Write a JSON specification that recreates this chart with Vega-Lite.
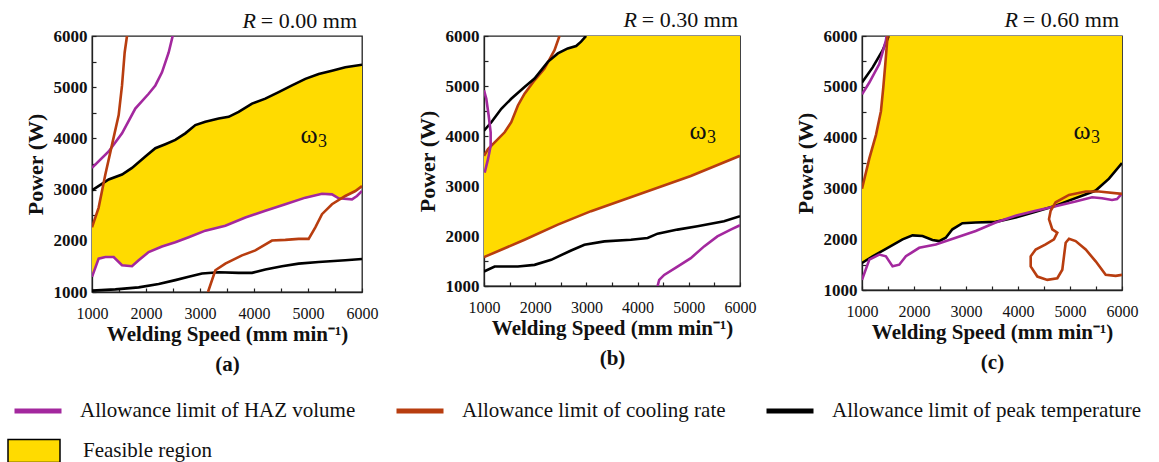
{
"$schema":"https://vega.github.io/schema/vega-lite/v6.json",
"padding":{"left":7,"top":8,"right":0,"bottom":0},
"datasets":{
"lines":[
{"p":"a","c":"a1","s":"peak","i":0,"x":1000,"y":2985},{"p":"a","c":"a1","s":"peak","i":1,"x":1309,"y":3197},{"p":"a","c":"a1","s":"peak","i":2,"x":1556,"y":3294},{"p":"a","c":"a1","s":"peak","i":3,"x":1741,"y":3423},{"p":"a","c":"a1","s":"peak","i":4,"x":1988,"y":3648},{"p":"a","c":"a1","s":"peak","i":5,"x":2173,"y":3809},{"p":"a","c":"a1","s":"peak","i":6,"x":2358,"y":3887},{"p":"a","c":"a1","s":"peak","i":7,"x":2543,"y":3970},{"p":"a","c":"a1","s":"peak","i":8,"x":2728,"y":4099},{"p":"a","c":"a1","s":"peak","i":9,"x":2914,"y":4260},{"p":"a","c":"a1","s":"peak","i":10,"x":3099,"y":4325},{"p":"a","c":"a1","s":"peak","i":11,"x":3346,"y":4389},{"p":"a","c":"a1","s":"peak","i":12,"x":3531,"y":4421},{"p":"a","c":"a1","s":"peak","i":13,"x":3716,"y":4518},{"p":"a","c":"a1","s":"peak","i":14,"x":3963,"y":4679},{"p":"a","c":"a1","s":"peak","i":15,"x":4210,"y":4776},{"p":"a","c":"a1","s":"peak","i":16,"x":4457,"y":4905},{"p":"a","c":"a1","s":"peak","i":17,"x":4704,"y":5034},{"p":"a","c":"a1","s":"peak","i":18,"x":4951,"y":5162},{"p":"a","c":"a1","s":"peak","i":19,"x":5198,"y":5259},{"p":"a","c":"a1","s":"peak","i":20,"x":5444,"y":5323},{"p":"a","c":"a1","s":"peak","i":21,"x":5691,"y":5388},{"p":"a","c":"a1","s":"peak","i":22,"x":6000,"y":5440},
{"p":"a","c":"a2","s":"peak","i":0,"x":1000,"y":1026},{"p":"a","c":"a2","s":"peak","i":1,"x":1432,"y":1052},{"p":"a","c":"a2","s":"peak","i":2,"x":1864,"y":1090},{"p":"a","c":"a2","s":"peak","i":3,"x":2235,"y":1155},{"p":"a","c":"a2","s":"peak","i":4,"x":2543,"y":1232},{"p":"a","c":"a2","s":"peak","i":5,"x":2790,"y":1296},{"p":"a","c":"a2","s":"peak","i":6,"x":3037,"y":1361},{"p":"a","c":"a2","s":"peak","i":7,"x":3346,"y":1387},{"p":"a","c":"a2","s":"peak","i":8,"x":3716,"y":1374},{"p":"a","c":"a2","s":"peak","i":9,"x":3963,"y":1374},{"p":"a","c":"a2","s":"peak","i":10,"x":4210,"y":1438},{"p":"a","c":"a2","s":"peak","i":11,"x":4519,"y":1503},{"p":"a","c":"a2","s":"peak","i":12,"x":4827,"y":1554},{"p":"a","c":"a2","s":"peak","i":13,"x":5198,"y":1586},{"p":"a","c":"a2","s":"peak","i":14,"x":5691,"y":1619},{"p":"a","c":"a2","s":"peak","i":15,"x":6000,"y":1645},
{"p":"a","c":"a3","s":"haz","i":0,"x":1000,"y":3423},{"p":"a","c":"a3","s":"haz","i":1,"x":1309,"y":3745},{"p":"a","c":"a3","s":"haz","i":2,"x":1556,"y":4099},{"p":"a","c":"a3","s":"haz","i":3,"x":1802,"y":4582},{"p":"a","c":"a3","s":"haz","i":4,"x":2049,"y":4872},{"p":"a","c":"a3","s":"haz","i":5,"x":2173,"y":5034},{"p":"a","c":"a3","s":"haz","i":6,"x":2296,"y":5291},{"p":"a","c":"a3","s":"haz","i":7,"x":2420,"y":5678},{"p":"a","c":"a3","s":"haz","i":8,"x":2494,"y":6000},
{"p":"a","c":"a4","s":"cool","i":0,"x":1000,"y":2263},{"p":"a","c":"a4","s":"cool","i":1,"x":1123,"y":2649},{"p":"a","c":"a4","s":"cool","i":2,"x":1247,"y":3294},{"p":"a","c":"a4","s":"cool","i":3,"x":1370,"y":3874},{"p":"a","c":"a4","s":"cool","i":4,"x":1494,"y":4454},{"p":"a","c":"a4","s":"cool","i":5,"x":1556,"y":5034},{"p":"a","c":"a4","s":"cool","i":6,"x":1605,"y":5678},{"p":"a","c":"a4","s":"cool","i":7,"x":1648,"y":6000},
{"p":"a","c":"a5","s":"haz","i":0,"x":1000,"y":1296},{"p":"a","c":"a5","s":"haz","i":1,"x":1123,"y":1651},{"p":"a","c":"a5","s":"haz","i":2,"x":1247,"y":1683},{"p":"a","c":"a5","s":"haz","i":3,"x":1401,"y":1683},{"p":"a","c":"a5","s":"haz","i":4,"x":1556,"y":1522},{"p":"a","c":"a5","s":"haz","i":5,"x":1741,"y":1503},{"p":"a","c":"a5","s":"haz","i":6,"x":1864,"y":1619},{"p":"a","c":"a5","s":"haz","i":7,"x":2049,"y":1780},{"p":"a","c":"a5","s":"haz","i":8,"x":2296,"y":1889},{"p":"a","c":"a5","s":"haz","i":9,"x":2543,"y":1973},{"p":"a","c":"a5","s":"haz","i":10,"x":2790,"y":2070},{"p":"a","c":"a5","s":"haz","i":11,"x":3099,"y":2198},{"p":"a","c":"a5","s":"haz","i":12,"x":3469,"y":2295},{"p":"a","c":"a5","s":"haz","i":13,"x":3840,"y":2456},{"p":"a","c":"a5","s":"haz","i":14,"x":4210,"y":2585},{"p":"a","c":"a5","s":"haz","i":15,"x":4580,"y":2714},{"p":"a","c":"a5","s":"haz","i":16,"x":4951,"y":2843},{"p":"a","c":"a5","s":"haz","i":17,"x":5259,"y":2920},{"p":"a","c":"a5","s":"haz","i":18,"x":5444,"y":2907},{"p":"a","c":"a5","s":"haz","i":19,"x":5568,"y":2830},{"p":"a","c":"a5","s":"haz","i":20,"x":5815,"y":2810},{"p":"a","c":"a5","s":"haz","i":21,"x":5907,"y":2875},{"p":"a","c":"a5","s":"haz","i":22,"x":6000,"y":2972},
{"p":"a","c":"a6","s":"cool","i":0,"x":3148,"y":1000},{"p":"a","c":"a6","s":"cool","i":1,"x":3284,"y":1425},{"p":"a","c":"a6","s":"cool","i":2,"x":3469,"y":1554},{"p":"a","c":"a6","s":"cool","i":3,"x":3778,"y":1715},{"p":"a","c":"a6","s":"cool","i":4,"x":4025,"y":1812},{"p":"a","c":"a6","s":"cool","i":5,"x":4333,"y":2005},{"p":"a","c":"a6","s":"cool","i":6,"x":4580,"y":2018},{"p":"a","c":"a6","s":"cool","i":7,"x":4827,"y":2037},{"p":"a","c":"a6","s":"cool","i":8,"x":5012,"y":2037},{"p":"a","c":"a6","s":"cool","i":9,"x":5136,"y":2263},{"p":"a","c":"a6","s":"cool","i":10,"x":5259,"y":2520},{"p":"a","c":"a6","s":"cool","i":11,"x":5444,"y":2714},{"p":"a","c":"a6","s":"cool","i":12,"x":5691,"y":2875},{"p":"a","c":"a6","s":"cool","i":13,"x":5877,"y":2972},{"p":"a","c":"a6","s":"cool","i":14,"x":6000,"y":3068},
{"p":"b","c":"b1","s":"cool","i":0,"x":1000,"y":1577},{"p":"b","c":"b1","s":"cool","i":1,"x":1792,"y":1926},{"p":"b","c":"b1","s":"cool","i":2,"x":2442,"y":2228},{"p":"b","c":"b1","s":"cool","i":3,"x":3091,"y":2497},{"p":"b","c":"b1","s":"cool","i":4,"x":3740,"y":2732},{"p":"b","c":"b1","s":"cool","i":5,"x":4390,"y":2966},{"p":"b","c":"b1","s":"cool","i":6,"x":5039,"y":3201},{"p":"b","c":"b1","s":"cool","i":7,"x":6000,"y":3604},
{"p":"b","c":"b2","s":"cool","i":0,"x":1000,"y":3604},{"p":"b","c":"b2","s":"cool","i":1,"x":1078,"y":3738},{"p":"b","c":"b2","s":"cool","i":2,"x":1208,"y":3872},{"p":"b","c":"b2","s":"cool","i":3,"x":1403,"y":4074},{"p":"b","c":"b2","s":"cool","i":4,"x":1532,"y":4275},{"p":"b","c":"b2","s":"cool","i":5,"x":1662,"y":4611},{"p":"b","c":"b2","s":"cool","i":6,"x":1792,"y":4846},{"p":"b","c":"b2","s":"cool","i":7,"x":1987,"y":5114},{"p":"b","c":"b2","s":"cool","i":8,"x":2182,"y":5349},{"p":"b","c":"b2","s":"cool","i":9,"x":2377,"y":5718},{"p":"b","c":"b2","s":"cool","i":10,"x":2474,"y":6000},
{"p":"b","c":"b3","s":"peak","i":0,"x":1000,"y":4107},{"p":"b","c":"b3","s":"peak","i":1,"x":1143,"y":4275},{"p":"b","c":"b3","s":"peak","i":2,"x":1338,"y":4544},{"p":"b","c":"b3","s":"peak","i":3,"x":1532,"y":4745},{"p":"b","c":"b3","s":"peak","i":4,"x":1792,"y":4980},{"p":"b","c":"b3","s":"peak","i":5,"x":1987,"y":5148},{"p":"b","c":"b3","s":"peak","i":6,"x":2247,"y":5483},{"p":"b","c":"b3","s":"peak","i":7,"x":2442,"y":5651},{"p":"b","c":"b3","s":"peak","i":8,"x":2636,"y":5752},{"p":"b","c":"b3","s":"peak","i":9,"x":2799,"y":5799},{"p":"b","c":"b3","s":"peak","i":10,"x":2896,"y":5886},{"p":"b","c":"b3","s":"peak","i":11,"x":2994,"y":6000},
{"p":"b","c":"b4","s":"peak","i":0,"x":1000,"y":1289},{"p":"b","c":"b4","s":"peak","i":1,"x":1208,"y":1389},{"p":"b","c":"b4","s":"peak","i":2,"x":1662,"y":1389},{"p":"b","c":"b4","s":"peak","i":3,"x":1987,"y":1423},{"p":"b","c":"b4","s":"peak","i":4,"x":2312,"y":1523},{"p":"b","c":"b4","s":"peak","i":5,"x":2701,"y":1711},{"p":"b","c":"b4","s":"peak","i":6,"x":2961,"y":1826},{"p":"b","c":"b4","s":"peak","i":7,"x":3351,"y":1893},{"p":"b","c":"b4","s":"peak","i":8,"x":3870,"y":1926},{"p":"b","c":"b4","s":"peak","i":9,"x":4195,"y":1960},{"p":"b","c":"b4","s":"peak","i":10,"x":4390,"y":2047},{"p":"b","c":"b4","s":"peak","i":11,"x":4779,"y":2128},{"p":"b","c":"b4","s":"peak","i":12,"x":5169,"y":2195},{"p":"b","c":"b4","s":"peak","i":13,"x":5688,"y":2295},{"p":"b","c":"b4","s":"peak","i":14,"x":6000,"y":2396},
{"p":"b","c":"b5","s":"haz","i":0,"x":1000,"y":4913},{"p":"b","c":"b5","s":"haz","i":1,"x":1045,"y":4745},{"p":"b","c":"b5","s":"haz","i":2,"x":1091,"y":4409},{"p":"b","c":"b5","s":"haz","i":3,"x":1130,"y":4074},{"p":"b","c":"b5","s":"haz","i":4,"x":1130,"y":3805},{"p":"b","c":"b5","s":"haz","i":5,"x":1078,"y":3537},{"p":"b","c":"b5","s":"haz","i":6,"x":1013,"y":3268},
{"p":"b","c":"b6","s":"haz","i":0,"x":4390,"y":1000},{"p":"b","c":"b6","s":"haz","i":1,"x":4422,"y":1121},{"p":"b","c":"b6","s":"haz","i":2,"x":4519,"y":1221},{"p":"b","c":"b6","s":"haz","i":3,"x":4779,"y":1389},{"p":"b","c":"b6","s":"haz","i":4,"x":5039,"y":1557},{"p":"b","c":"b6","s":"haz","i":5,"x":5299,"y":1792},{"p":"b","c":"b6","s":"haz","i":6,"x":5558,"y":1993},{"p":"b","c":"b6","s":"haz","i":7,"x":5818,"y":2128},{"p":"b","c":"b6","s":"haz","i":8,"x":6000,"y":2215},
{"p":"c","c":"c1","s":"peak","i":0,"x":1000,"y":5084},{"p":"c","c":"c1","s":"peak","i":1,"x":1205,"y":5382},{"p":"c","c":"c1","s":"peak","i":2,"x":1396,"y":5714},{"p":"c","c":"c1","s":"peak","i":3,"x":1492,"y":5947},{"p":"c","c":"c1","s":"peak","i":4,"x":1512,"y":6000},
{"p":"c","c":"c2","s":"haz","i":0,"x":1000,"y":4851},{"p":"c","c":"c2","s":"haz","i":1,"x":1141,"y":5084},{"p":"c","c":"c2","s":"haz","i":2,"x":1332,"y":5448},{"p":"c","c":"c2","s":"haz","i":3,"x":1460,"y":5914},{"p":"c","c":"c2","s":"haz","i":4,"x":1473,"y":6000},
{"p":"c","c":"c3","s":"cool","i":0,"x":1000,"y":2992},{"p":"c","c":"c3","s":"cool","i":1,"x":1141,"y":3590},{"p":"c","c":"c3","s":"cool","i":2,"x":1269,"y":4054},{"p":"c","c":"c3","s":"cool","i":3,"x":1364,"y":4519},{"p":"c","c":"c3","s":"cool","i":4,"x":1409,"y":4983},{"p":"c","c":"c3","s":"cool","i":5,"x":1448,"y":5448},{"p":"c","c":"c3","s":"cool","i":6,"x":1492,"y":6000},
{"p":"c","c":"c4","s":"peak","i":0,"x":1000,"y":1531},{"p":"c","c":"c4","s":"peak","i":1,"x":1205,"y":1664},{"p":"c","c":"c4","s":"peak","i":2,"x":1460,"y":1810},{"p":"c","c":"c4","s":"peak","i":3,"x":1780,"y":1996},{"p":"c","c":"c4","s":"peak","i":4,"x":1972,"y":2076},{"p":"c","c":"c4","s":"peak","i":5,"x":2164,"y":2062},{"p":"c","c":"c4","s":"peak","i":6,"x":2355,"y":1983},{"p":"c","c":"c4","s":"peak","i":7,"x":2483,"y":1963},{"p":"c","c":"c4","s":"peak","i":8,"x":2611,"y":2029},{"p":"c","c":"c4","s":"peak","i":9,"x":2739,"y":2195},{"p":"c","c":"c4","s":"peak","i":10,"x":2931,"y":2315},{"p":"c","c":"c4","s":"peak","i":11,"x":3187,"y":2328},{"p":"c","c":"c4","s":"peak","i":12,"x":3570,"y":2341},{"p":"c","c":"c4","s":"peak","i":13,"x":3954,"y":2428},{"p":"c","c":"c4","s":"peak","i":14,"x":4338,"y":2540},{"p":"c","c":"c4","s":"peak","i":15,"x":4724,"y":2660},{"p":"c","c":"c4","s":"peak","i":16,"x":4977,"y":2760},{"p":"c","c":"c4","s":"peak","i":17,"x":5297,"y":2880},{"p":"c","c":"c4","s":"peak","i":18,"x":5494,"y":2958},{"p":"c","c":"c4","s":"peak","i":19,"x":5750,"y":3191},{"p":"c","c":"c4","s":"peak","i":20,"x":6000,"y":3500},
{"p":"c","c":"c5","s":"haz","i":0,"x":1000,"y":1199},{"p":"c","c":"c5","s":"haz","i":1,"x":1141,"y":1598},{"p":"c","c":"c5","s":"haz","i":2,"x":1332,"y":1697},{"p":"c","c":"c5","s":"haz","i":3,"x":1460,"y":1664},{"p":"c","c":"c5","s":"haz","i":4,"x":1588,"y":1465},{"p":"c","c":"c5","s":"haz","i":5,"x":1716,"y":1498},{"p":"c","c":"c5","s":"haz","i":6,"x":1844,"y":1664},{"p":"c","c":"c5","s":"haz","i":7,"x":2100,"y":1830},{"p":"c","c":"c5","s":"haz","i":8,"x":2419,"y":1896},{"p":"c","c":"c5","s":"haz","i":9,"x":2803,"y":2029},{"p":"c","c":"c5","s":"haz","i":10,"x":3187,"y":2162},{"p":"c","c":"c5","s":"haz","i":11,"x":3570,"y":2328},{"p":"c","c":"c5","s":"haz","i":12,"x":3954,"y":2461},{"p":"c","c":"c5","s":"haz","i":13,"x":4338,"y":2560},{"p":"c","c":"c5","s":"haz","i":14,"x":4722,"y":2647},{"p":"c","c":"c5","s":"haz","i":15,"x":5105,"y":2740},{"p":"c","c":"c5","s":"haz","i":16,"x":5425,"y":2826},{"p":"c","c":"c5","s":"haz","i":17,"x":5616,"y":2806},{"p":"c","c":"c5","s":"haz","i":18,"x":5808,"y":2773},{"p":"c","c":"c5","s":"haz","i":19,"x":5904,"y":2790},{"p":"c","c":"c5","s":"haz","i":20,"x":6000,"y":2900},
{"p":"c","c":"c6","s":"cool","i":0,"x":6000,"y":2892},{"p":"c","c":"c6","s":"cool","i":1,"x":5558,"y":2938},{"p":"c","c":"c6","s":"cool","i":2,"x":5302,"y":2938},{"p":"c","c":"c6","s":"cool","i":3,"x":4981,"y":2872},{"p":"c","c":"c6","s":"cool","i":4,"x":4724,"y":2727},{"p":"c","c":"c6","s":"cool","i":5,"x":4628,"y":2560},{"p":"c","c":"c6","s":"cool","i":6,"x":4596,"y":2394},{"p":"c","c":"c6","s":"cool","i":7,"x":4660,"y":2195},{"p":"c","c":"c6","s":"cool","i":8,"x":4756,"y":2130},{"p":"c","c":"c6","s":"cool","i":9,"x":4692,"y":1996},{"p":"c","c":"c6","s":"cool","i":10,"x":4532,"y":1896},{"p":"c","c":"c6","s":"cool","i":11,"x":4340,"y":1797},{"p":"c","c":"c6","s":"cool","i":12,"x":4244,"y":1663},{"p":"c","c":"c6","s":"cool","i":13,"x":4244,"y":1464},{"p":"c","c":"c6","s":"cool","i":14,"x":4372,"y":1265},{"p":"c","c":"c6","s":"cool","i":15,"x":4564,"y":1199},{"p":"c","c":"c6","s":"cool","i":16,"x":4756,"y":1232},{"p":"c","c":"c6","s":"cool","i":17,"x":4852,"y":1398},{"p":"c","c":"c6","s":"cool","i":18,"x":4884,"y":1663},{"p":"c","c":"c6","s":"cool","i":19,"x":4917,"y":1930},{"p":"c","c":"c6","s":"cool","i":20,"x":4981,"y":2010},{"p":"c","c":"c6","s":"cool","i":21,"x":5109,"y":1963},{"p":"c","c":"c6","s":"cool","i":22,"x":5302,"y":1797},{"p":"c","c":"c6","s":"cool","i":23,"x":5494,"y":1564},{"p":"c","c":"c6","s":"cool","i":24,"x":5686,"y":1299},{"p":"c","c":"c6","s":"cool","i":25,"x":5878,"y":1279},{"p":"c","c":"c6","s":"cool","i":26,"x":6000,"y":1299}
],
"areas":[
{"p":"a","r":"Feasible region","x":1000,"y":1296,"y2":2263},{"p":"a","r":"Feasible region","x":1123,"y":1651,"y2":2649},{"p":"a","r":"Feasible region","x":1220,"y":1680,"y2":3150},{"p":"a","r":"Feasible region","x":1309,"y":1683,"y2":3197},{"p":"a","r":"Feasible region","x":1401,"y":1683,"y2":3250},{"p":"a","r":"Feasible region","x":1556,"y":1522,"y2":3294},{"p":"a","r":"Feasible region","x":1741,"y":1503,"y2":3423},{"p":"a","r":"Feasible region","x":1864,"y":1619,"y2":3540},{"p":"a","r":"Feasible region","x":1988,"y":1740,"y2":3648},{"p":"a","r":"Feasible region","x":2173,"y":1830,"y2":3809},{"p":"a","r":"Feasible region","x":2358,"y":1910,"y2":3887},{"p":"a","r":"Feasible region","x":2543,"y":1973,"y2":3970},{"p":"a","r":"Feasible region","x":2728,"y":2050,"y2":4099},{"p":"a","r":"Feasible region","x":2914,"y":2120,"y2":4260},{"p":"a","r":"Feasible region","x":3099,"y":2198,"y2":4325},{"p":"a","r":"Feasible region","x":3346,"y":2260,"y2":4389},{"p":"a","r":"Feasible region","x":3531,"y":2310,"y2":4421},{"p":"a","r":"Feasible region","x":3716,"y":2400,"y2":4518},{"p":"a","r":"Feasible region","x":3963,"y":2500,"y2":4679},{"p":"a","r":"Feasible region","x":4210,"y":2585,"y2":4776},{"p":"a","r":"Feasible region","x":4457,"y":2670,"y2":4905},{"p":"a","r":"Feasible region","x":4704,"y":2760,"y2":5034},{"p":"a","r":"Feasible region","x":4951,"y":2843,"y2":5162},{"p":"a","r":"Feasible region","x":5198,"y":2910,"y2":5259},{"p":"a","r":"Feasible region","x":5444,"y":2907,"y2":5323},{"p":"a","r":"Feasible region","x":5568,"y":2830,"y2":5360},{"p":"a","r":"Feasible region","x":5691,"y":2875,"y2":5388},{"p":"a","r":"Feasible region","x":5877,"y":2972,"y2":5420},{"p":"a","r":"Feasible region","x":6000,"y":3060,"y2":5440},
{"p":"b","r":"Feasible region","x":1000,"y":1577,"y2":3604},{"p":"b","r":"Feasible region","x":1078,"y":1611,"y2":3738},{"p":"b","r":"Feasible region","x":1208,"y":1668,"y2":3872},{"p":"b","r":"Feasible region","x":1403,"y":1754,"y2":4074},{"p":"b","r":"Feasible region","x":1532,"y":1811,"y2":4275},{"p":"b","r":"Feasible region","x":1662,"y":1868,"y2":4611},{"p":"b","r":"Feasible region","x":1792,"y":1926,"y2":4846},{"p":"b","r":"Feasible region","x":1987,"y":2017,"y2":5114},{"p":"b","r":"Feasible region","x":2182,"y":2107,"y2":5349},{"p":"b","r":"Feasible region","x":2247,"y":2137,"y2":5470},{"p":"b","r":"Feasible region","x":2442,"y":2228,"y2":5651},{"p":"b","r":"Feasible region","x":2636,"y":2308,"y2":5752},{"p":"b","r":"Feasible region","x":2799,"y":2376,"y2":5799},{"p":"b","r":"Feasible region","x":2896,"y":2416,"y2":5886},{"p":"b","r":"Feasible region","x":2994,"y":2457,"y2":6000},{"p":"b","r":"Feasible region","x":3740,"y":2732,"y2":6000},{"p":"b","r":"Feasible region","x":4390,"y":2966,"y2":6000},{"p":"b","r":"Feasible region","x":5039,"y":3201,"y2":6000},{"p":"b","r":"Feasible region","x":6000,"y":3604,"y2":6000},
{"p":"c","r":"Feasible region","x":1000,"y":1531,"y2":2992},{"p":"c","r":"Feasible region","x":1141,"y":1625,"y2":3590},{"p":"c","r":"Feasible region","x":1269,"y":1700,"y2":4054},{"p":"c","r":"Feasible region","x":1364,"y":1755,"y2":4519},{"p":"c","r":"Feasible region","x":1409,"y":1780,"y2":4983},{"p":"c","r":"Feasible region","x":1448,"y":1803,"y2":5448},{"p":"c","r":"Feasible region","x":1492,"y":1830,"y2":6000},{"p":"c","r":"Feasible region","x":1780,"y":1996,"y2":6000},{"p":"c","r":"Feasible region","x":1972,"y":2076,"y2":6000},{"p":"c","r":"Feasible region","x":2164,"y":2062,"y2":6000},{"p":"c","r":"Feasible region","x":2355,"y":1983,"y2":6000},{"p":"c","r":"Feasible region","x":2483,"y":1963,"y2":6000},{"p":"c","r":"Feasible region","x":2611,"y":2029,"y2":6000},{"p":"c","r":"Feasible region","x":2739,"y":2195,"y2":6000},{"p":"c","r":"Feasible region","x":2931,"y":2315,"y2":6000},{"p":"c","r":"Feasible region","x":3187,"y":2328,"y2":6000},{"p":"c","r":"Feasible region","x":3570,"y":2341,"y2":6000},{"p":"c","r":"Feasible region","x":3954,"y":2428,"y2":6000},{"p":"c","r":"Feasible region","x":4338,"y":2540,"y2":6000},{"p":"c","r":"Feasible region","x":4724,"y":2660,"y2":6000},{"p":"c","r":"Feasible region","x":4977,"y":2760,"y2":6000},{"p":"c","r":"Feasible region","x":5297,"y":2880,"y2":6000},{"p":"c","r":"Feasible region","x":5494,"y":2958,"y2":6000},{"p":"c","r":"Feasible region","x":5750,"y":3191,"y2":6000},{"p":"c","r":"Feasible region","x":6000,"y":3500,"y2":6000}
]
},
"spacing":36,
"resolve":{"scale":{"stroke":"shared","fill":"shared"}},
"hconcat":[
{
"width":270,"height":256,
"encoding":{
"x":{"field":"x","type":"quantitative","scale":{"domain":[1000,6000],"nice":false,"zero":false},"axis":{"title":["Welding Speed (mm min⁻¹)","(a)"],"values":[1000,1500,2000,2500,3000,3500,4000,4500,5000,5500,6000],"format":"d","labelExpr":"datum.value % 1000 === 0 ? datum.label : ''"}},
"y":{"field":"y","type":"quantitative","scale":{"domain":[1000,6000],"nice":false,"zero":false},"axis":{"title":"Power (W)","values":[1000,1500,2000,2500,3000,3500,4000,4500,5000,5500,6000],"format":"d","labelExpr":"datum.value % 1000 === 0 ? datum.label : ''"}}
},
"layer":[
{"data":{"name":"areas"},"transform":[{"filter":"datum.p === 'a'"}],"mark":{"type":"area","clip":true},
 "encoding":{"y2":{"field":"y2"},"fill":{"field":"r","type":"nominal","scale":{"domain":["Feasible region"],"range":["#ffdb00"]},
 "legend":{"orient":"none","legendX":-85,"legendY":388,"title":null,"symbolType":"M-1,-0.44L1,-0.44L1,0.44L-1,0.44Z","symbolSize":2704,"symbolStrokeColor":"black","symbolStrokeWidth":1.5,"symbolOpacity":1,"labelFont":"Liberation Serif","labelFontSize":21,"labelColor":"#111","labelOffset":22,"labelLimit":500,"padding":0}}}},
{"data":{"name":"lines"},"transform":[{"filter":"datum.p === 'a'"}],"mark":{"type":"line","clip":true,"strokeWidth":2.6},
 "encoding":{"detail":{"field":"c"},"order":{"field":"i","type":"quantitative"},
 "stroke":{"field":"s","type":"nominal","scale":{"domain":["haz","cool","peak"],"range":["#a3289e","#b83d0f","#000000"]},
 "legend":{"orient":"none","legendX":-80,"legendY":349,"direction":"horizontal","title":null,"symbolType":"stroke","symbolSize":2209,"symbolStrokeWidth":5,"labelFont":"Liberation Serif","labelFontSize":21,"labelColor":"#111","labelOffset":16,"columnPadding":30,"labelLimit":500,"padding":0,
 "encode":{"symbols":{"update":{"strokeWidth":{"value":5}}}},
 "labelExpr":"datum.label === 'haz' ? 'Allowance limit of HAZ volume' : datum.label === 'cool' ? 'Allowance limit of cooling rate' : 'Allowance limit of peak temperature'"}}}},
{"data":{"values":[{"x":6000,"y":6000,"t":"= 0.00 mm"}]},"mark":{"type":"text","font":"Liberation Serif","fontSize":22,"align":"right","baseline":"alphabetic","dx":-5,"dy":-8,"color":"#111"},"encoding":{"text":{"field":"t"}}},
{"data":{"values":[{"x":6000,"y":6000,"t":"R"}]},"mark":{"type":"text","font":"Liberation Serif","fontSize":22,"fontStyle":"italic","align":"right","baseline":"alphabetic","dx":-106,"dy":-8,"color":"#111"},"encoding":{"text":{"field":"t"}}},
{"data":{"values":[{"x":5018,"y":4070,"t":"ω"}]},"mark":{"type":"text","font":"Liberation Serif","fontSize":26,"align":"center","baseline":"middle","color":"#111"},"encoding":{"text":{"field":"t"}}},
{"data":{"values":[{"x":5018,"y":4070,"t":"3"}]},"mark":{"type":"text","font":"Liberation Serif","fontSize":18,"align":"left","baseline":"middle","dx":9,"dy":7,"color":"#111"},"encoding":{"text":{"field":"t"}}}
]
},
{
"width":256,"height":250,
"encoding":{
"x":{"field":"x","type":"quantitative","scale":{"domain":[1000,6000],"nice":false,"zero":false},"axis":{"title":["Welding Speed (mm min⁻¹)","(b)"],"values":[1000,1500,2000,2500,3000,3500,4000,4500,5000,5500,6000],"format":"d","labelExpr":"datum.value % 1000 === 0 ? datum.label : ''"}},
"y":{"field":"y","type":"quantitative","scale":{"domain":[1000,6000],"nice":false,"zero":false},"axis":{"title":"Power (W)","values":[1000,1500,2000,2500,3000,3500,4000,4500,5000,5500,6000],"format":"d","labelExpr":"datum.value % 1000 === 0 ? datum.label : ''"}}
},
"layer":[
{"data":{"name":"areas"},"transform":[{"filter":"datum.p === 'b'"}],"mark":{"type":"area","clip":true},
 "encoding":{"y2":{"field":"y2"},"fill":{"field":"r","type":"nominal","scale":{"domain":["Feasible region"],"range":["#ffdb00"]}}}},
{"data":{"name":"lines"},"transform":[{"filter":"datum.p === 'b'"}],"mark":{"type":"line","clip":true,"strokeWidth":2.6},
 "encoding":{"detail":{"field":"c"},"order":{"field":"i","type":"quantitative"},
 "stroke":{"field":"s","type":"nominal","scale":{"domain":["haz","cool","peak"],"range":["#a3289e","#b83d0f","#000000"]}}}},
{"data":{"values":[{"x":6000,"y":6000,"t":"= 0.30 mm"}]},"mark":{"type":"text","font":"Liberation Serif","fontSize":22,"align":"right","baseline":"alphabetic","dx":-2,"dy":-9,"color":"#111"},"encoding":{"text":{"field":"t"}}},
{"data":{"values":[{"x":6000,"y":6000,"t":"R"}]},"mark":{"type":"text","font":"Liberation Serif","fontSize":22,"fontStyle":"italic","align":"right","baseline":"alphabetic","dx":-103,"dy":-9,"color":"#111"},"encoding":{"text":{"field":"t"}}},
{"data":{"values":[{"x":5180,"y":4100,"t":"ω"}]},"mark":{"type":"text","font":"Liberation Serif","fontSize":26,"align":"center","baseline":"middle","color":"#111"},"encoding":{"text":{"field":"t"}}},
{"data":{"values":[{"x":5180,"y":4100,"t":"3"}]},"mark":{"type":"text","font":"Liberation Serif","fontSize":18,"align":"left","baseline":"middle","dx":9,"dy":7,"color":"#111"},"encoding":{"text":{"field":"t"}}}
]
},
{
"width":260,"height":254,
"encoding":{
"x":{"field":"x","type":"quantitative","scale":{"domain":[1000,6000],"nice":false,"zero":false},"axis":{"title":["Welding Speed (mm min⁻¹)","(c)"],"values":[1000,1500,2000,2500,3000,3500,4000,4500,5000,5500,6000],"format":"d","labelExpr":"datum.value % 1000 === 0 ? datum.label : ''"}},
"y":{"field":"y","type":"quantitative","scale":{"domain":[1000,6000],"nice":false,"zero":false},"axis":{"title":"Power (W)","values":[1000,1500,2000,2500,3000,3500,4000,4500,5000,5500,6000],"format":"d","labelExpr":"datum.value % 1000 === 0 ? datum.label : ''"}}
},
"layer":[
{"data":{"name":"areas"},"transform":[{"filter":"datum.p === 'c'"}],"mark":{"type":"area","clip":true},
 "encoding":{"y2":{"field":"y2"},"fill":{"field":"r","type":"nominal","scale":{"domain":["Feasible region"],"range":["#ffdb00"]}}}},
{"data":{"name":"lines"},"transform":[{"filter":"datum.p === 'c'"}],"mark":{"type":"line","clip":true,"strokeWidth":2.6},
 "encoding":{"detail":{"field":"c"},"order":{"field":"i","type":"quantitative"},
 "stroke":{"field":"s","type":"nominal","scale":{"domain":["haz","cool","peak"],"range":["#a3289e","#b83d0f","#000000"]}}}},
{"data":{"values":[{"x":6000,"y":6000,"t":"= 0.60 mm"}]},"mark":{"type":"text","font":"Liberation Serif","fontSize":22,"align":"right","baseline":"alphabetic","dx":-3,"dy":-9,"color":"#111"},"encoding":{"text":{"field":"t"}}},
{"data":{"values":[{"x":6000,"y":6000,"t":"R"}]},"mark":{"type":"text","font":"Liberation Serif","fontSize":22,"fontStyle":"italic","align":"right","baseline":"alphabetic","dx":-104,"dy":-9,"color":"#111"},"encoding":{"text":{"field":"t"}}},
{"data":{"values":[{"x":5230,"y":4128,"t":"ω"}]},"mark":{"type":"text","font":"Liberation Serif","fontSize":26,"align":"center","baseline":"middle","color":"#111"},"encoding":{"text":{"field":"t"}}},
{"data":{"values":[{"x":5230,"y":4128,"t":"3"}]},"mark":{"type":"text","font":"Liberation Serif","fontSize":18,"align":"left","baseline":"middle","dx":9,"dy":7,"color":"#111"},"encoding":{"text":{"field":"t"}}}
]
}
],
"config":{
"view":{"stroke":"#222","strokeWidth":1.3},
"font":"Liberation Serif",
"axis":{"grid":false,"labelFont":"Liberation Serif","titleFont":"Liberation Serif","labelColor":"#111","titleColor":"#111","domainColor":"#222","tickColor":"#222","domainWidth":1.3,"tickSize":-4,"tickWidth":1.2,"labelFlush":false,"labelOverlap":false},
"axisX":{"labelFontSize":16,"labelFontWeight":"normal","labelPadding":17,"titleFontSize":21,"titleFontWeight":"bold","titlePadding":2,"titleLineHeight":30},
"axisY":{"labelFontSize":17,"labelFontWeight":"bold","labelPadding":9,"titleFontSize":22,"titleFontWeight":"bold","titlePadding":6}
}
}
